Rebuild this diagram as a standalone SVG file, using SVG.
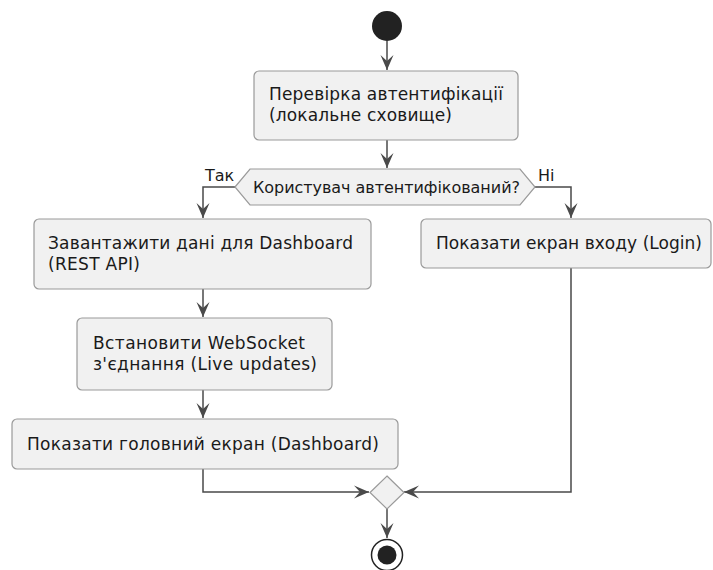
<svg xmlns="http://www.w3.org/2000/svg" width="713" height="570" viewBox="0 0 713 570">
<style>
.box{fill:#F1F1F1;stroke:#9a9a9a;stroke-width:1.2}
.t{font-family:"DejaVu Sans",sans-serif;font-size:17px;fill:#1a1a1a}
.s{font-size:16px}
.c{fill:none;stroke:#4a4a4a;stroke-width:1.5}
</style>
<defs>
<marker id="ah" viewBox="-16 -7 17 14" markerWidth="17" markerHeight="14" refX="0" refY="0" orient="auto" markerUnits="userSpaceOnUse">
<path d="M0,0 L-15,-6.5 L-9,0 L-15,6.5 Z" fill="#4a4a4a"/>
</marker>
</defs>
<g id="connectors">
<path class="c" d="M387,41 L387,70" marker-end="url(#ah)"/>
<path class="c" d="M387,140 L387,168" marker-end="url(#ah)"/>
<path class="c" d="M235,187 L203,187 L203,218" marker-end="url(#ah)"/>
<path class="c" d="M535,187 L571,187 L571,218" marker-end="url(#ah)"/>
<path class="c" d="M203,289 L203,317" marker-end="url(#ah)"/>
<path class="c" d="M203,390 L203,418" marker-end="url(#ah)"/>
<path class="c" d="M203,469 L203,492 L369,492" marker-end="url(#ah)"/>
<path class="c" d="M571,268 L571,492 L404,492" marker-end="url(#ah)"/>
<path class="c" d="M387,509 L387,538" marker-end="url(#ah)"/>
<text class="t s" x="205" y="181">Так</text>
<text class="t s" x="538" y="181">Ні</text>
</g>
<g id="start"><circle cx="387" cy="26" r="15" fill="#222"/></g>
<g id="check">
<rect class="box" x="254" y="71" width="264" height="69" rx="5"/>
<text class="t" x="269" y="100" textLength="234" lengthAdjust="spacing">Перевірка автентифікації</text>
<text class="t" x="269" y="121" textLength="183" lengthAdjust="spacing">(локальне сховище)</text>
</g>
<g id="decision">
<polygon class="box" points="235,187 250,169 520,169 535,187 520,205 250,205"/>
<text class="t s" x="253" y="193" textLength="267" lengthAdjust="spacing">Користувач автентифікований?</text>
</g>
<g id="load">
<rect class="box" x="34" y="219" width="337" height="70" rx="5"/>
<text class="t" x="48" y="249" textLength="305" lengthAdjust="spacing">Завантажити дані для Dashboard</text>
<text class="t" x="48" y="270" textLength="92" lengthAdjust="spacing">(REST API)</text>
</g>
<g id="login">
<rect class="box" x="421" y="219" width="290" height="49" rx="5"/>
<text class="t" x="436" y="249" textLength="266" lengthAdjust="spacing">Показати екран входу (Login)</text>
</g>
<g id="ws">
<rect class="box" x="77" y="318" width="255" height="72" rx="5"/>
<text class="t" x="93" y="349" textLength="212" lengthAdjust="spacing">Встановити WebSocket</text>
<text class="t" x="93" y="370" textLength="224" lengthAdjust="spacing">з'єднання (Live updates)</text>
</g>
<g id="main">
<rect class="box" x="12" y="419" width="386" height="50" rx="5"/>
<text class="t" x="27" y="450" textLength="352" lengthAdjust="spacing">Показати головний екран (Dashboard)</text>
</g>
<g id="merge"><polygon class="box" points="387,476 404,492.5 387,509 370,492.5"/></g>
<g id="end">
<circle cx="387" cy="555" r="15.5" fill="#fff" stroke="#222" stroke-width="1.5"/>
<circle cx="387" cy="555" r="9.5" fill="#222"/>
</g>
</svg>
